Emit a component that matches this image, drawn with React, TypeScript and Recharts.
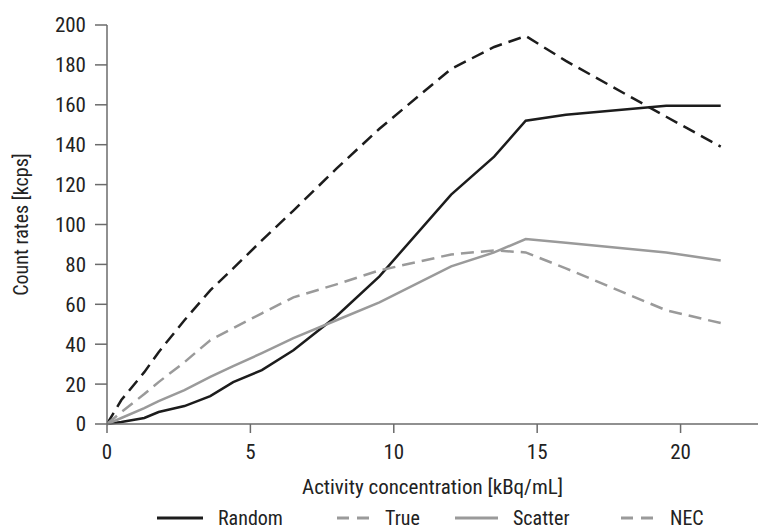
import { LineChart, Line, XAxis, YAxis } from 'recharts';

// activity concentration [kBq/mL]
const concentration = [0, 0.5, 1.3, 1.8, 2.7, 3.6, 4.4, 5.4, 6.5, 8.0, 9.5, 12.0, 13.5, 14.6, 16.0, 19.5, 21.4];

// count rates [kcps]
const randomRates = [0, 1, 3, 6, 9, 14, 21, 27, 37, 54, 74, 115, 134, 152, 155, 159.5, 159.5];
const trueRates = [0, 12, 26, 36, 52, 67, 78, 92, 107, 128, 148, 178, 189, 194.5, 182, 154, 139];
const scatterRates = [0, 3, 8, 11.5, 17, 23.6, 29, 35.5, 43, 52, 61, 79, 86, 92.7, 90.8, 86, 82];
const necRates = [0, 6, 15, 21, 31, 42, 48, 55.5, 63.5, 70, 77, 85, 87, 86, 78, 57, 50.6];

const xTicks = [0, 5, 10, 15, 20];
const yTicks = [0, 20, 40, 60, 80, 100, 120, 140, 160, 180, 200];

const FONT = "'Liberation Sans Narrow', 'Roboto Condensed', 'Arial Narrow', Roboto, sans-serif";
const DARK = '#1c1c1c';
const GRAY = '#9a9a9a';
const AXIS = '#6b6b6b';

const chartData = concentration.map((x, i) => ({
  x,
  random: randomRates[i],
  true: trueRates[i],
  scatter: scatterRates[i],
  nec: necRates[i],
}));

// legend as in the original figure (the "True" key is drawn grey there)
const legendItems = [
  { label: 'Random', color: DARK, dash: '', left: 157, iconWidth: 46 },
  { label: 'True', color: GRAY, dash: '12 8', left: 337, iconWidth: 33 },
  { label: 'Scatter', color: GRAY, dash: '', left: 455, iconWidth: 43 },
  { label: 'NEC', color: GRAY, dash: '12 8', left: 621, iconWidth: 34 },
];

const YLabel = ({ viewBox }: any) => {
  const cx = viewBox.x + 21;
  const cy = viewBox.y + viewBox.height / 2;
  return (
    <text
      x={cx}
      y={cy}
      transform={`rotate(-90, ${cx}, ${cy})`}
      textAnchor="middle"
      dominantBaseline="central"
      fill="#222"
      fontSize={20}
      fontFamily={FONT}
    >
      Count rates [kcps]
    </text>
  );
};

export default function App() {
  return (
    <div style={{ position: 'absolute', left: 0, top: 0, width: 758, height: 529, background: '#fff', overflow: 'hidden' }}>
      <LineChart
        width={758}
        height={529}
        data={chartData}
        margin={{ top: 25, right: 0, bottom: 0, left: 0 }}
        style={{ fontFamily: FONT }}
      >
        <XAxis
          dataKey="x"
          type="number"
          domain={[0, 22.7]}
          ticks={xTicks}
          allowDataOverflow
          height={105}
          tickSize={9}
          tickMargin={11}
          stroke={AXIS}
          strokeWidth={1.5}
          tick={{ fill: '#222', fontSize: 21, fontFamily: FONT }}
          label={{
            value: 'Activity concentration [kBq/mL]',
            position: 'insideTop',
            offset: 55,
            fill: '#222',
            fontSize: 21,
            fontFamily: FONT,
          }}
        />
        <YAxis
          type="number"
          domain={[0, 200]}
          ticks={yTicks}
          width={107}
          tickSize={12}
          tickMargin={9}
          stroke={AXIS}
          strokeWidth={1.5}
          tick={{ fill: '#222', fontSize: 21, fontFamily: FONT }}
          label={<YLabel />}
        />
        <Line dataKey="true" stroke={DARK} strokeWidth={2.5} strokeDasharray="13 7" dot={false} isAnimationActive={false} />
        <Line dataKey="random" stroke={DARK} strokeWidth={2.5} dot={false} isAnimationActive={false} />
        <Line dataKey="scatter" stroke={GRAY} strokeWidth={2.5} dot={false} isAnimationActive={false} />
        <Line dataKey="nec" stroke={GRAY} strokeWidth={2.5} strokeDasharray="13 7" dot={false} isAnimationActive={false} />
      </LineChart>
      {legendItems.map((item) => (
        <div
          key={item.label}
          style={{
            position: 'absolute',
            left: item.left,
            top: 507,
            height: 22,
            lineHeight: '22px',
            display: 'flex',
            alignItems: 'center',
            fontFamily: FONT,
            fontSize: 20,
            color: '#222',
            whiteSpace: 'nowrap',
          }}
        >
          <svg width={item.iconWidth} height={6} style={{ marginRight: 15 }}>
            <line
              x1={0}
              y1={3}
              x2={item.iconWidth}
              y2={3}
              stroke={item.color}
              strokeWidth={3}
              strokeDasharray={item.dash || undefined}
            />
          </svg>
          <span>{item.label}</span>
        </div>
      ))}
    </div>
  );
}
